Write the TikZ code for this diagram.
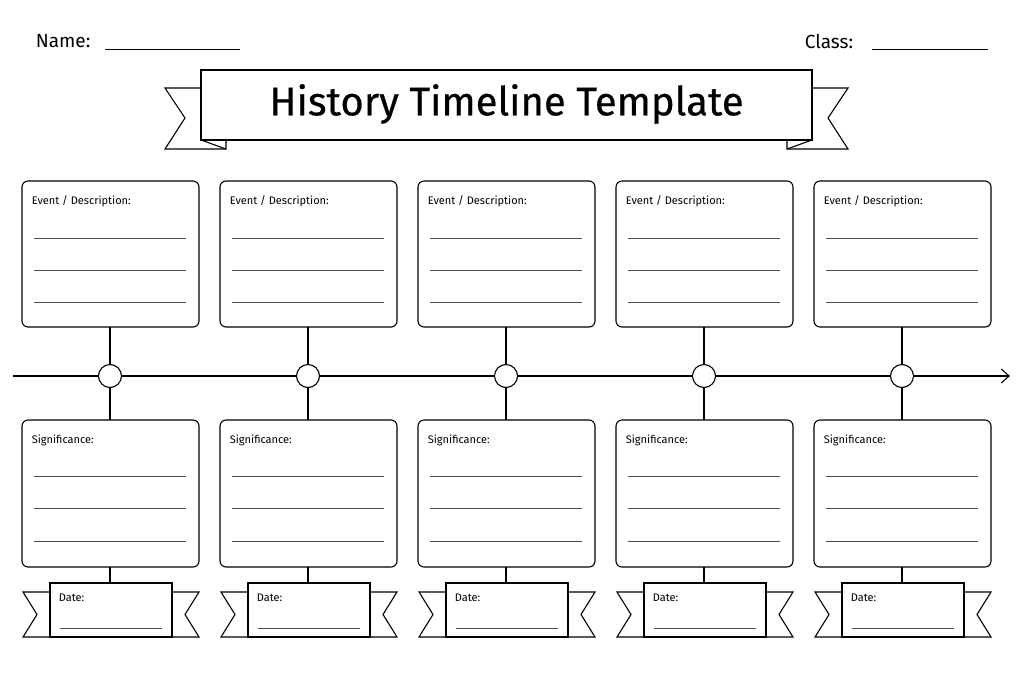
\documentclass[tikz,border=0pt]{standalone}
\usepackage{fontspec}
\setmainfont{Fira Sans}
\usetikzlibrary{arrows.meta}
\begin{document}
\begin{tikzpicture}[x=1pt,y=-1pt,line width=1.1pt,
  card/.style={draw,rounded corners=6pt},
  wline/.style={draw,line width=0.6pt,black!70},
  lbl/.style={anchor=west,font=\fontsize{11}{13}\selectfont}]
\useasboundingbox (0,0) rectangle (1024,683);
% header
\node[anchor=west,font=\fontsize{19}{22}\selectfont] (name) at (32,41) {Name:};
\draw[line width=0.9pt] (105,49) -- (240,49);
\node[anchor=west,font=\fontsize{19}{22}\selectfont] (class) at (801,41) {Class:};
\draw[line width=0.9pt] (872,49) -- (988,49);
% title banner
\draw (201,88) -- (165,88) -- (185,118) -- (165,149) -- (226,149) -- (226,140);
\draw (201,140) -- (226,149);
\draw (812,88) -- (848,88) -- (828,118) -- (848,149) -- (787,149) -- (787,140);
\draw (812,140) -- (787,149);
\draw[fill=white] (201,70) rectangle (812,140);
\node[font=\fontsize{40}{46}\selectfont\addfontfeatures{FakeBold=0.5}] (title) at (506.5,104) {History Timeline Template};
% axis
\draw[-{Straight Barb[length=8pt,width=14pt]}] (13,376) -- (1010,376);
\foreach \i/\cx in {1/110,2/308,3/506,4/704,5/902}{
  \pgfmathsetmacro\L{\cx-88}
  \pgfmathsetmacro\R{\cx+89}
  \draw[card] (\L,181) rectangle (\R,327);
  \node[lbl] (ev\i) at (\L+6,201) {Event / Description:};
  \foreach \yy in {238,270,302}{\draw[wline] (\L+12,\yy) -- (\R-13,\yy);}
  \draw[card] (\L,420) rectangle (\R,567);
  \node[lbl] (sg\i) at (\L+6,440) {Significance:};
  \foreach \yy in {476,508,541}{\draw[wline] (\L+12,\yy) -- (\R-13,\yy);}
  \node[draw,circle,fill=white,minimum size=23pt,inner sep=0pt] (c\i) at (\cx,376) {};
  \draw (\cx,327) -- (c\i);
  \draw (c\i) -- (\cx,420);
  \draw (\cx,567) -- (\cx,583);
  % date banner
  \draw (\cx-60,592) -- (\cx-87,592) -- (\cx-73,614.5) -- (\cx-87,637) -- (\cx-60,637);
  \draw (\cx+62,592) -- (\cx+89,592) -- (\cx+75,614.5) -- (\cx+89,637) -- (\cx+62,637);
  \draw[fill=white] (\cx-60,583) rectangle (\cx+62,637);
  \node[lbl] (dt\i) at (\cx-55,598) {Date:};
  \draw[wline] (\cx-50,628) -- (\cx+52,628);
}
\end{tikzpicture}
\end{document}
